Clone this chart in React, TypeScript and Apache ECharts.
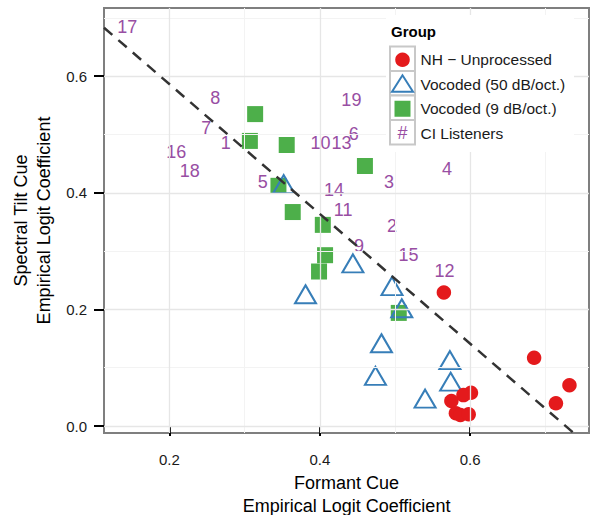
import React, { useEffect, useRef } from 'react';
import * as echarts from 'echarts';

// axis ranges (panel limits) and ticks
const xRange = [0.113, 0.758];
const yRange = [-0.012, 0.717];
const xTicks = [0.2, 0.4, 0.6];
const yTicks = [0.0, 0.2, 0.4, 0.6];
const xMinor = [0.3, 0.5, 0.7];
const yMinor = [0.1, 0.3, 0.5, 0.7];

// NH - Unprocessed
const nhPoints = [
  [0.565, 0.229], [0.685, 0.117], [0.732, 0.070], [0.714, 0.039],
  [0.601, 0.057], [0.591, 0.053], [0.575, 0.043], [0.581, 0.022],
  [0.587, 0.019], [0.598, 0.020]
];

// Vocoded (50 dB/oct.)
const voc50Points = [
  [0.444, 0.279], [0.381, 0.226], [0.496, 0.240], [0.509, 0.202],
  [0.482, 0.142], [0.474, 0.086], [0.573, 0.113], [0.574, 0.076],
  [0.540, 0.047], [0.352, 0.415]
];

// Vocoded (9 dB/oct.)
const voc9Points = [
  [0.314, 0.535], [0.307, 0.489], [0.356, 0.482], [0.345, 0.412],
  [0.364, 0.367], [0.404, 0.345], [0.407, 0.293], [0.399, 0.265],
  [0.505, 0.194], [0.460, 0.446]
];

// CI listeners (plotted as their number)
const ciIds = ['1', '2', '3', '4', '5', '6', '7', '8', '9', '10', '11', '12', '13', '14', '15', '16', '17', '18', '19'];
const ciX = [0.275, 0.496, 0.492, 0.569, 0.324, 0.445, 0.249, 0.261, 0.452, 0.401, 0.431, 0.566, 0.429, 0.419, 0.518, 0.209, 0.144, 0.227, 0.442];
const ciY = [0.486, 0.343, 0.419, 0.440, 0.419, 0.501, 0.511, 0.563, 0.309, 0.486, 0.370, 0.266, 0.486, 0.404, 0.293, 0.470, 0.685, 0.438, 0.559];

// dashed reference line
const lineIntercept = 0.809;
const lineSlope = -1.113;

const groupNames = ['NH \u2212 Unprocessed', 'Vocoded (50 dB/oct.)', 'Vocoded (9 dB/oct.)', 'CI Listeners'];

const RED = '#e41a1c';
const BLUE = '#377eb8';
const GREEN = '#4daf4a';
const PURPLE = '#984ea3';
const FONT = 'Liberation Sans, Arial, Helvetica, sans-serif';

const App: React.FC = () => {
  const chartRef = useRef<HTMLDivElement>(null);

  useEffect(() => {
    if (!chartRef.current) return;
    const chart = echarts.init(chartRef.current, undefined, { renderer: 'svg' });

    const gridLine = (color: string, width: number, key: 'xAxis' | 'yAxis', vals: number[]) =>
      vals.map((v) => ({ [key]: v, lineStyle: { color, width, type: 'solid' } }));

    const fmt = (v: number) => v.toFixed(1);

    // legend drawn by hand (ggplot style keys)
    const legendLeft = 390;
    const keyW = 25;
    const keyH = 24.5;
    const keyTop = 46.5;
    const legend: any[] = [
      { type: 'rect', shape: { x: 386, y: 15, width: 188, height: 137 }, style: { fill: '#ffffff' }, z: 100 },
      {
        type: 'text', x: 391, y: 31,
        style: { text: 'Group', font: `bold 15px ${FONT}`, fill: '#000', verticalAlign: 'middle' }, z: 101
      }
    ];
    groupNames.forEach((name, i) => {
      const cy = keyTop + keyH * i + keyH / 2;
      legend.push({
        type: 'rect', shape: { x: legendLeft, y: keyTop + keyH * i, width: keyW, height: keyH },
        style: { fill: '#fff', stroke: '#c8c8c8', lineWidth: 2 }, z: 101
      });
      legend.push({
        type: 'text', x: 420.5, y: cy + 1,
        style: { text: name, font: `15.5px ${FONT}`, fill: '#1a1a1a', verticalAlign: 'middle' }, z: 102
      });
    });
    const kx = legendLeft + keyW / 2;
    const cys = groupNames.map((_, i) => keyTop + keyH * i + keyH / 2);
    legend.push({ type: 'circle', shape: { cx: kx, cy: cys[0] + 1, r: 7.3 }, style: { fill: RED }, z: 102 });
    legend.push({
      type: 'polygon',
      shape: { points: [[kx, cys[1] - 8], [kx - 10.5, cys[1] + 8.5], [kx + 10.5, cys[1] + 8.5]] },
      style: { fill: 'none', stroke: BLUE, lineWidth: 2 }, z: 102
    });
    legend.push({ type: 'rect', shape: { x: kx - 8, y: cys[2] - 7, width: 16, height: 16 }, style: { fill: GREEN }, z: 102 });
    legend.push({
      type: 'text', x: kx, y: cys[3] + 1,
      style: { text: '#', font: `18px ${FONT}`, fill: PURPLE, align: 'center', verticalAlign: 'middle' }, z: 102
    });

    const option: echarts.EChartsOption = {
      animation: false,
      textStyle: { fontFamily: FONT },
      grid: {
        left: 104, top: 8, width: 485, height: 425,
        outerBoundsMode: 'none', containLabel: false,
        show: true, borderColor: '#7f7f7f', borderWidth: 2, backgroundColor: '#ffffff'
      } as any,
      xAxis: {
        type: 'value', min: xRange[0], max: xRange[1],
        axisLine: { show: false },
        axisTick: { show: true, customValues: xTicks, length: 10, lineStyle: { color: '#000', width: 2 } } as any,
        axisLabel: { customValues: xTicks, formatter: fmt, fontSize: 15, color: '#1a1a1a', margin: 19 } as any,
        splitLine: { show: false },
        name: 'Formant Cue\nEmpirical Logit Coefficient',
        nameLocation: 'middle', nameGap: 37,
        nameTextStyle: { fontSize: 18, lineHeight: 23, color: '#000' }
      },
      yAxis: {
        type: 'value', min: yRange[0], max: yRange[1],
        axisLine: { show: false },
        axisTick: { show: true, customValues: yTicks, length: 10, lineStyle: { color: '#000', width: 2 } } as any,
        axisLabel: { customValues: yTicks, formatter: fmt, fontSize: 15, color: '#1a1a1a', margin: 17 } as any,
        splitLine: { show: false },
        name: 'Spectral Tilt Cue\nEmpirical Logit Coefficient',
        nameLocation: 'middle', nameGap: 41,
        nameTextStyle: { fontSize: 18, lineHeight: 23, color: '#000' }
      },
      graphic: legend,
      series: [
        {
          // panel grid lines
          type: 'line', data: [], silent: true,
          markLine: {
            silent: true, symbol: 'none', label: { show: false }, animation: false,
            data: [
              ...gridLine('#f3f3f3', 1, 'xAxis', xMinor),
              ...gridLine('#f3f3f3', 1, 'yAxis', yMinor),
              ...gridLine('#e6e6e6', 1.3, 'xAxis', xTicks),
              ...gridLine('#e6e6e6', 1.3, 'yAxis', yTicks)
            ] as any
          }
        },
        {
          name: groupNames[2], type: 'scatter', data: voc9Points,
          symbol: 'rect', symbolSize: 16, itemStyle: { color: GREEN, opacity: 1 }
        },
        {
          name: groupNames[1], type: 'scatter', data: voc50Points,
          symbol: 'triangle', symbolSize: [21, 18],
          itemStyle: { color: 'rgba(0,0,0,0)', borderColor: BLUE, borderWidth: 2, opacity: 1 }
        },
        {
          name: groupNames[0], type: 'scatter', data: nhPoints,
          symbol: 'circle', symbolSize: 14.5, itemStyle: { color: RED, opacity: 1 }
        },
        {
          name: groupNames[3], type: 'scatter',
          data: ciIds.map((id, i) => ({ name: id, value: [ciX[i], ciY[i]] })),
          symbolSize: 0,
          itemStyle: { opacity: 1 },
          label: {
            show: true, position: 'inside', formatter: '{b}', opacity: 1,
            color: PURPLE, fontSize: 18, fontFamily: FONT,
            textBorderWidth: 0, textBorderColor: 'transparent'
          }
        },
        {
          type: 'line', silent: true, symbol: 'none',
          data: xRange.map((x) => [x, lineIntercept + lineSlope * x]),
          lineStyle: { color: '#333333', width: 2.5, type: [11, 8] },
          z: 5
        }
      ] as any
    };

    chart.setOption(option);
    return () => chart.dispose();
  }, []);

  return (
    <div
      ref={chartRef}
      style={{ position: 'absolute', left: 0, top: 0, width: '592px', height: '515px', background: '#fff' }}
    />
  );
};

export default App;
